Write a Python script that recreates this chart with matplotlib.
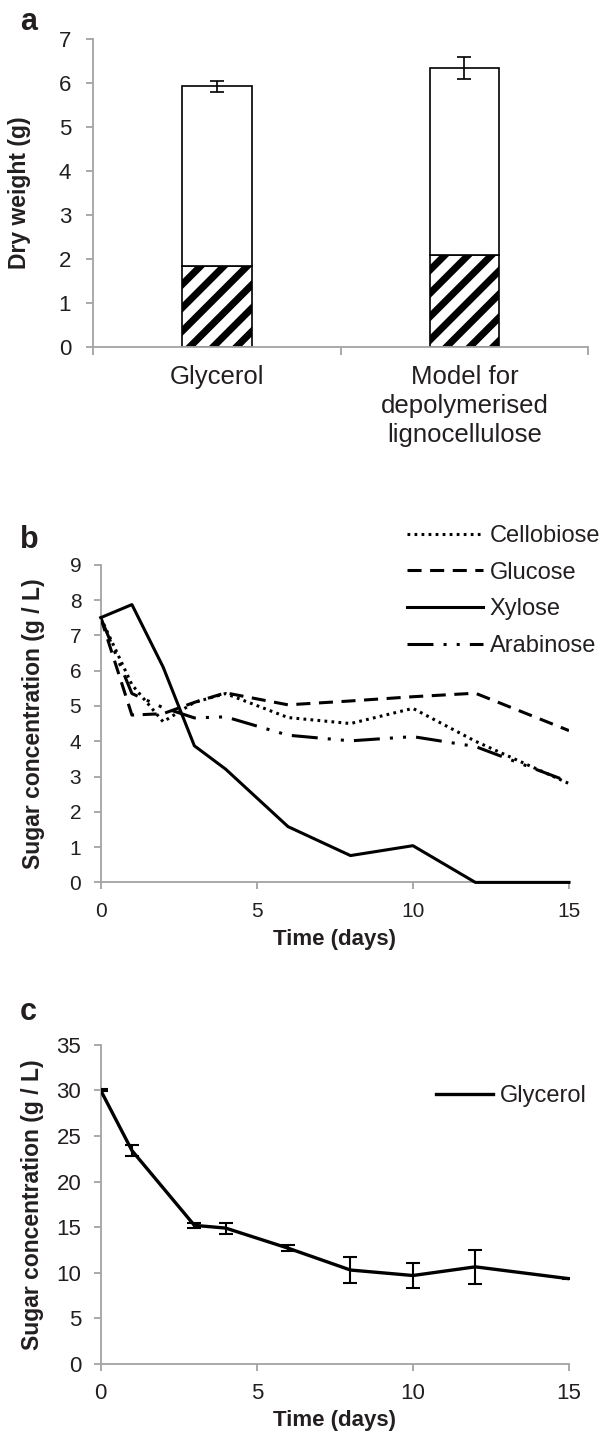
import matplotlib
matplotlib.use("Agg")
import matplotlib.pyplot as plt
from matplotlib.ticker import FixedLocator, NullFormatter
from matplotlib.lines import Line2D

# ---------------- data ----------------
# panel a
categories = ["Glycerol", "Model for\ndepolymerised\nlignocellulose"]
hatched_part = [1.84, 2.10]
upper_part = [4.09, 4.25]
total_err = [0.13, 0.25]

# panel b
days_b = [0, 1, 2, 3, 4, 6, 8, 10, 12, 15]
cellobiose = [7.5, 5.6, 4.55, 5.1, 5.35, 4.67, 4.5, 4.93, 4.0, 2.8]
glucose = [7.5, 4.74, 4.78, 5.1, 5.37, 5.03, 5.14, 5.26, 5.36, 4.3]
xylose = [7.5, 7.87, 6.1, 3.87, 3.21, 1.58, 0.76, 1.04, 0.0, 0.0]
arabinose = [7.5, 5.35, 4.95, 4.66, 4.69, 4.17, 4.01, 4.13, 3.85, 2.85]

# panel c
days_c = [0, 1, 3, 4, 6, 8, 10, 12, 15]
glycerol = [30.0, 23.4, 15.2, 14.9, 12.7, 10.3, 9.7, 10.65, 9.35]
glycerol_err = [0.1, 0.6, 0.25, 0.6, 0.3, 1.4, 1.35, 1.85, 0.05]

# ---------------- style ----------------
DPI = 70
P = 100 / DPI  # sizes below are given as "points at 100 dpi"
plt.rcParams['font.family'] = ['Liberation Sans', 'DejaVu Sans']
plt.rcParams['hatch.linewidth'] = 7.2
W, H = 600, 1438
fig = plt.figure(figsize=(W / DPI, H / DPI), dpi=DPI)
GREY = '#a3a3a3'
TXT = '#231f20'


def rect(l, r, top, bot):
    return [l / W, 1 - bot / H, (r - l) / W, (bot - top) / H]


def style_axes(ax):
    for s in ['top', 'right']:
        ax.spines[s].set_visible(False)
    for s in ['left', 'bottom']:
        ax.spines[s].set_color(GREY)
        ax.spines[s].set_linewidth(1.3 * P)
    ax.tick_params(which='both', color=GREY, width=1.3 * P, length=5 * P,
                   direction='out', labelcolor=TXT)


# ---------------- panel a ----------------
axa = fig.add_axes(rect(93.3, 588, 39.3, 347))
style_axes(axa)
xa = list(range(len(categories)))
axa.bar(xa, hatched_part, width=0.28, color='white', edgecolor='black',
        hatch='/', linewidth=1.2 * P, zorder=2)
axa.bar(xa, upper_part, bottom=hatched_part, width=0.28, color='white',
        edgecolor='black', linewidth=1.2 * P, zorder=2)
totals = [h + u for h, u in zip(hatched_part, upper_part)]
axa.errorbar(xa, totals, yerr=total_err, fmt='none', ecolor='black',
             elinewidth=1.2 * P, capsize=5 * P, capthick=1.2 * P, zorder=3)
axa.set_xlim(-0.5, 1.5)
axa.set_ylim(0, 7)
axa.set_yticks(range(0, 8))
axa.set_xticks(xa)
axa.set_xticklabels(categories, fontsize=18.5 * P, linespacing=1.25)
axa.xaxis.set_minor_locator(FixedLocator([-0.5, 0.5, 1.5]))
axa.xaxis.set_minor_formatter(NullFormatter())
axa.tick_params(axis='x', which='major', length=0, pad=13 * P)
axa.tick_params(axis='x', which='minor', length=6 * P)
axa.tick_params(axis='y', labelsize=16 * P, pad=11 * P)
axa.set_ylabel('Dry weight (g)', fontsize=16.5 * P, fontweight='bold',
               labelpad=20 * P, color=TXT)
fig.text(20 / W, 1 - 22 / H, 'a', fontsize=22 * P, fontweight='bold',
         color=TXT, ha='left', va='center')

# ---------------- panel b ----------------
axb = fig.add_axes(rect(100.7, 569, 564.7, 882.4))
style_axes(axb)
lw = 2.2 * P
axb.plot(days_b, cellobiose, color='black', lw=lw, linestyle=(0, (0.9, 1.4)),
         label='Cellobiose', zorder=3)
axb.plot(days_b, glucose, color='black', lw=lw, linestyle=(0, (4.6, 2.8)),
         label='Glucose', zorder=3)
axb.plot(days_b, xylose, color='black', lw=lw, linestyle='-', label='Xylose',
         clip_on=False, zorder=3)
axb.plot(days_b, arabinose, color='black', lw=lw,
         linestyle=(0, (8.5, 3.3, 1, 3.3, 1, 3.3)), label='Arabinose',
         zorder=3)
axb.set_xlim(0, 15)
axb.set_ylim(0, 9)
axb.set_xticks([0, 5, 10, 15])
axb.set_yticks(range(0, 10))
axb.tick_params(axis='both', labelsize=15 * P, pad=9 * P)
axb.set_xlabel('Time (days)', fontsize=16 * P, fontweight='bold',
               labelpad=6 * P, color=TXT)
axb.set_ylabel('Sugar concentration (g / L)', fontsize=16.5 * P,
               fontweight='bold', labelpad=18 * P, color=TXT)
legb = axb.legend(loc='upper left', bbox_to_anchor=(407 / W, 1 - 525 / H),
                  bbox_transform=fig.transFigure, frameon=False,
                  fontsize=17 * P, handlelength=3.2, handletextpad=0.3,
                  labelspacing=0.62, borderpad=0, borderaxespad=0)
for t in legb.get_texts():
    t.set_color(TXT)
fig.text(20 / W, 1 - 540 / H, 'b', fontsize=22 * P, fontweight='bold',
         color=TXT, ha='left', va='center')

# ---------------- panel c ----------------
axc = fig.add_axes(rect(100.7, 569, 1044.7, 1364))
style_axes(axc)
axc.errorbar(days_c, glycerol, yerr=glycerol_err, color='black', lw=2.4 * P,
             ecolor='black', elinewidth=1.5 * P, capsize=5 * P,
             capthick=1.5 * P, label='Glycerol', zorder=3)
axc.set_xlim(0, 15)
axc.set_ylim(0, 35)
axc.set_xticks([0, 5, 10, 15])
axc.set_yticks(range(0, 36, 5))
axc.tick_params(axis='both', labelsize=16 * P, pad=9 * P)
axc.set_xlabel('Time (days)', fontsize=16 * P, fontweight='bold',
               labelpad=4 * P, color=TXT)
axc.set_ylabel('Sugar concentration (g / L)', fontsize=16.5 * P,
               fontweight='bold', labelpad=9 * P, color=TXT)
legc = axc.legend(handles=[Line2D([], [], color='black', lw=2.4 * P)],
                  labels=['Glycerol'], loc='upper left',
                  bbox_to_anchor=(436 / W, 1 - 1085 / H),
                  bbox_transform=fig.transFigure, frameon=False,
                  fontsize=17 * P, handlelength=2.4, handletextpad=0.3,
                  borderpad=0, borderaxespad=0)
for t in legc.get_texts():
    t.set_color(TXT)
fig.text(20 / W, 1 - 1012 / H, 'c', fontsize=22 * P, fontweight='bold',
         color=TXT, ha='left', va='center')

fig.savefig('out.png', dpi=DPI)
